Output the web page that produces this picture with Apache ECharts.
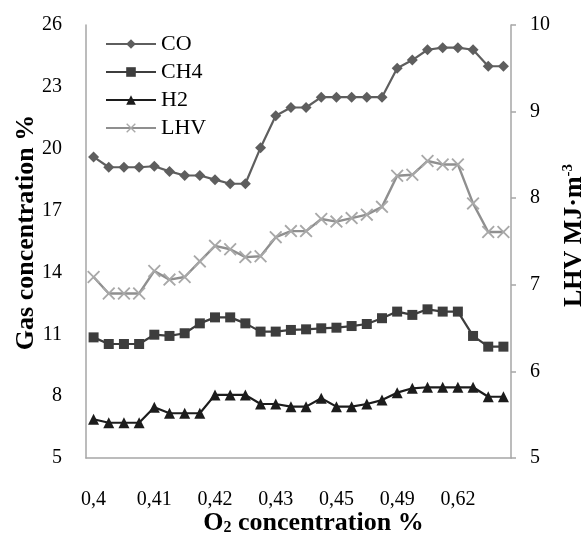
<!DOCTYPE html>
<html>
<head>
<meta charset="utf-8">
<script src="https://cdn.jsdelivr.net/npm/echarts@6/dist/echarts.min.js"></script>
<style>
  html, body { margin: 0; padding: 0; background: #fff; }
  #myChart { width: 581px; height: 533px; }
</style>
</head>
<body>
<div id="myChart"></div>
<script type="text/javascript">
// x categories (only every 4th label shows, like the original)
const o2Labels = [
  '0,4', '0,4', '0,4', '0,4',
  '0,41', '0,41', '0,41', '0,41',
  '0,42', '0,42', '0,42', '0,42',
  '0,43', '0,43', '0,43', '0,43',
  '0,45', '0,45', '0,45', '0,45',
  '0,49', '0,49', '0,49', '0,49',
  '0,62', '0,62', '0,62', '0,62'
]
const coData = [19.6, 19.1, 19.1, 19.1, 19.15, 18.9, 18.7, 18.7, 18.5, 18.3, 18.3, 20.05, 21.6, 22.0,
  22.0, 22.5, 22.5, 22.5, 22.5, 22.5, 23.9, 24.3, 24.8, 24.9, 24.9, 24.8, 24.0, 24.0]
const ch4Data = [10.85, 10.53, 10.53, 10.53, 10.98, 10.92, 11.05, 11.53, 11.82, 11.82, 11.53, 11.13, 11.13, 11.21,
  11.24, 11.29, 11.32, 11.4, 11.5, 11.78, 12.1, 11.94, 12.21, 12.1, 12.1, 10.92, 10.4, 10.4]
const h2Data = [6.88, 6.71, 6.71, 6.71, 7.46, 7.17, 7.17, 7.17, 8.06, 8.06, 8.06, 7.62, 7.62, 7.49,
  7.49, 7.9, 7.49, 7.49, 7.62, 7.81, 8.17, 8.38, 8.43, 8.43, 8.43, 8.43, 7.97, 7.97]
const lhvData = [7.09, 6.9, 6.9, 6.9, 7.16, 7.06, 7.09, 7.27, 7.45, 7.41, 7.32, 7.33, 7.55, 7.62,
  7.62, 7.76, 7.73, 7.77, 7.81, 7.9, 8.26, 8.27, 8.43, 8.39, 8.39, 7.94, 7.61, 7.61]

const serif = '"Liberation Serif", "DejaVu Serif", serif'
const axisGray = '#a6a6a6'
// cross marker (filled X shape)
const crossPath = 'path://M0,1L1,0L5,4L9,0L10,1L6,5L10,9L9,10L5,6L1,10L0,9L4,5Z'

let myChart = echarts.init(document.getElementById('myChart'))
myChart.setOption({
  animation: false,
  textStyle: {fontFamily: serif},
  grid: {
    left: 86,
    right: 70,
    top: 25,
    bottom: 75,
    outerBoundsMode: 'none'
  },
  legend: {
    orient: 'vertical',
    left: 100,
    top: 28,
    itemWidth: 50,
    itemHeight: 12,
    itemGap: 6,
    textStyle: {fontFamily: serif, fontSize: 22, color: '#000'},
    data: ['CO', 'CH4', 'H2', 'LHV']
  },
  xAxis: {
    type: 'category',
    boundaryGap: true,
    data: o2Labels,
    axisLine: {lineStyle: {color: axisGray, width: 1.5}},
    axisTick: {show: false},
    axisLabel: {
      interval: 3,
      margin: 32,
      fontFamily: serif,
      fontSize: 20,
      color: '#000'
    },
    name: '{a|O}{s|2}{a| concentration %}',
    nameLocation: 'middle',
    nameGap: 52,
    nameMoveOverlap: false,
    nameTextStyle: {
      padding: [0, 0, 0, 30],
      rich: {
        a: {fontFamily: serif, fontSize: 26, fontWeight: 'bold', color: '#000'},
        s: {fontFamily: serif, fontSize: 16, fontWeight: 'bold', color: '#000', padding: [9, 0, 0, 0]}
      }
    }
  },
  yAxis: [
    {
      type: 'value',
      min: 5,
      max: 26,
      interval: 3,
      axisLine: {show: true, lineStyle: {color: axisGray, width: 1.5}},
      axisTick: {show: false},
      splitLine: {show: false},
      axisLabel: {margin: 24, fontFamily: serif, fontSize: 20, color: '#000'},
      name: 'Gas concentration %',
      nameLocation: 'middle',
      nameRotate: 90,
      nameGap: 47,
      nameMoveOverlap: false,
      nameTextStyle: {
        fontFamily: serif,
        fontSize: 26,
        fontWeight: 'bold',
        color: '#000',
        padding: [0, 0, 0, 18]
      }
    },
    {
      type: 'value',
      min: 5,
      max: 10,
      interval: 1,
      position: 'right',
      axisLine: {show: true, lineStyle: {color: axisGray, width: 1.5}},
      axisTick: {show: true, length: 5, lineStyle: {color: axisGray, width: 1.5}},
      splitLine: {show: false},
      axisLabel: {margin: 19, fontFamily: serif, fontSize: 20, color: '#000'},
      name: '{a|LHV MJ·m}{s|-3}',
      nameLocation: 'middle',
      nameRotate: 90,
      nameGap: 50,
      nameTextStyle: {
        padding: [0, 0, 0, 12],
        rich: {
          a: {fontFamily: serif, fontSize: 26, fontWeight: 'bold', color: '#000'},
          s: {fontFamily: serif, fontSize: 15, fontWeight: 'bold', color: '#000', padding: [0, 0, 11, 0]}
        }
      }
    }
  ],
  series: [
    {
      name: 'CO',
      type: 'line',
      yAxisIndex: 0,
      symbol: 'diamond',
      symbolSize: 11,
      showAllSymbol: true,
      lineStyle: {color: '#5e5e5e', width: 2.2},
      itemStyle: {color: '#5e5e5e'},
      data: coData
    },
    {
      name: 'CH4',
      type: 'line',
      yAxisIndex: 0,
      symbol: 'rect',
      symbolSize: 10,
      showAllSymbol: true,
      lineStyle: {color: '#3d3d3d', width: 2.2},
      itemStyle: {color: '#3d3d3d'},
      data: ch4Data
    },
    {
      name: 'H2',
      type: 'line',
      yAxisIndex: 0,
      symbol: 'triangle',
      symbolSize: 11,
      showAllSymbol: true,
      lineStyle: {color: '#1c1c1c', width: 2.2},
      itemStyle: {color: '#1c1c1c'},
      data: h2Data
    },
    {
      name: 'LHV',
      type: 'line',
      yAxisIndex: 1,
      symbol: crossPath,
      symbolSize: 13,
      showAllSymbol: true,
      lineStyle: {color: '#8f8f8f', width: 2.4},
      itemStyle: {color: '#a8a8a8'},
      data: lhvData
    }
  ]
})
</script>
</body>
</html>
